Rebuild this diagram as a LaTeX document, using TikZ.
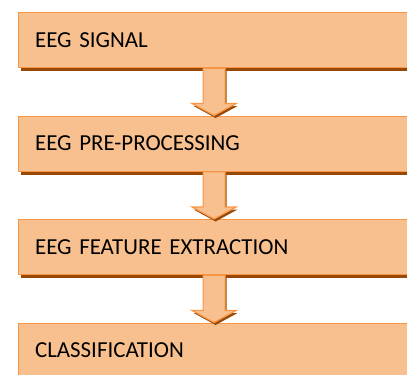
\documentclass[tikz,border=0pt]{standalone}
\usepackage{fontspec}
\setmainfont{Carlito}
\usetikzlibrary{positioning,calc,shadows}
\definecolor{stageorange}{RGB}{247,150,70}
\definecolor{stagefill}{RGB}{249,192,143}
\definecolor{stagebrown}{RGB}{152,72,7}

\begin{document}
\begin{tikzpicture}[x=1bp,y=1bp,node distance=47.3bp,
  stagebox/.style={draw=stageorange,line width=1.2bp,fill=stagefill,minimum height=55bp,
    text width=358bp,inner xsep=17bp,inner ysep=0bp,align=left,font=\fontsize{23}{26}\selectfont,
    drop shadow={shadow xshift=2.5bp,shadow yshift=-3.5bp,fill=stagebrown,opacity=1}},
  flowarrow/.style={draw=stageorange,line width=1.2bp,fill=stagefill,line join=miter,
    drop shadow={shadow xshift=1.5bp,shadow yshift=-2.5bp,fill=stagebrown,opacity=1}}]
  \useasboundingbox (0,0) rectangle (407,375);
  \node[stagebox,anchor=north west] (sig) at (17.5,363) {EEG SIGNAL};
  \node[stagebox,below=of sig] (pre) {EEG PRE-PROCESSING};
  \node[stagebox,below=of pre] (feat) {EEG FEATURE EXTRACTION};
  \node[stagebox,below=of feat] (cls) {CLASSIFICATION};
  % block arrows between the stages
  \foreach \u/\v in {sig/pre,pre/feat,feat/cls}
    \draw[flowarrow] ($(\u.south)+(-11,0)$) -- ($(\v.north)+(-11,12)$) -- ($(\v.north)+(-22,12)$)
      -- (\v.north) -- ($(\v.north)+(22,12)$) -- ($(\v.north)+(11,12)$) -- ($(\u.south)+(11,0)$) -- cycle;
\end{tikzpicture}
\end{document}
